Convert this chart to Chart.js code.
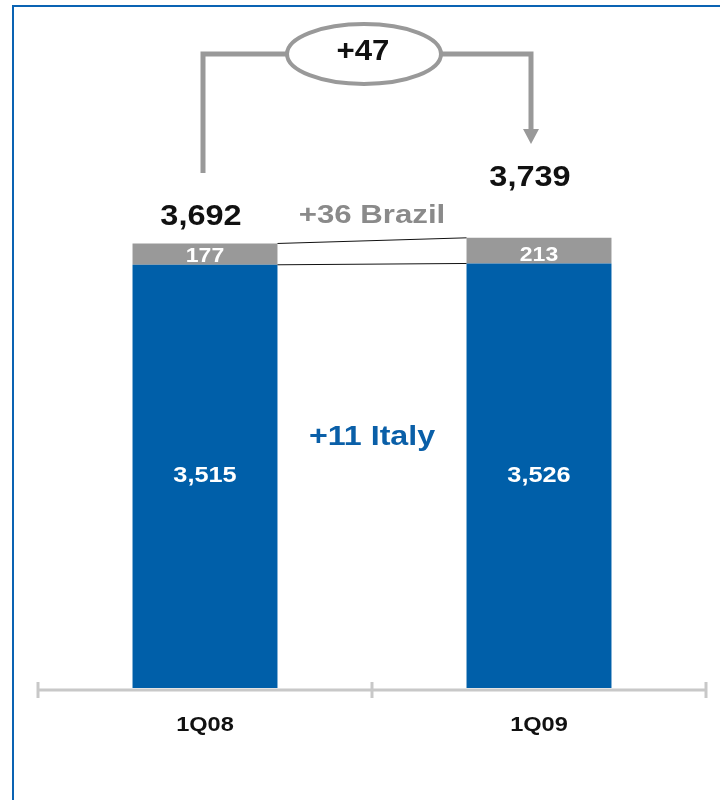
<!DOCTYPE html>
<html>
<head>
<meta charset="utf-8">
<script src="https://cdn.jsdelivr.net/npm/chart.js@4.4.1/dist/chart.umd.min.js"></script>
<style>
  html, body { margin: 0; padding: 0; background: #fff; }
  #wrap { position: relative; width: 720px; height: 800px; overflow: hidden; }
  #frame { position: absolute; left: 12px; top: 5px; width: 760px; height: 840px;
           border-left: 2px solid #0a63b3; border-top: 2px solid #0a63b3; pointer-events: none; }
  canvas { position: absolute; left: 0; top: 0; }
</style>
</head>
<body>
<div id="wrap">
  <canvas id="chart" width="720" height="800"></canvas>
  <div id="frame"></div>
</div>
<script>
// Headcount by quarter
const quarters = ['1Q08', '1Q09'];
const italy = [3515, 3526];
const brazil = [177, 213];

const totals = italy.map((v, i) => v + brazil[i]);
const fmt = v => v.toLocaleString('en-US');
const signed = v => (v >= 0 ? '+' : '') + fmt(v);

const FONT = "'Liberation Sans', Arial, Helvetica, sans-serif";
const BLUE = '#005fa9';
const GREY = '#999999';

// bold centred text, optionally widened (sx) to get the broader letterforms
function text(ctx, str, x, y, size, color, sx) {
    ctx.save();
    ctx.translate(x, y);
    ctx.scale(sx || 1, 1);
    ctx.font = 'bold ' + size + 'px ' + FONT;
    ctx.fillStyle = color;
    ctx.textAlign = 'center';
    ctx.textBaseline = 'middle';
    ctx.fillText(str, 0, 0);
    ctx.restore();
}

function line(ctx, pts) {
    ctx.beginPath();
    ctx.moveTo(pts[0][0], pts[0][1]);
    for (let i = 1; i < pts.length; i++) ctx.lineTo(pts[i][0], pts[i][1]);
    ctx.stroke();
}

// axis, value labels, bridge lines and the +/- callouts
const annotate = {
    id: 'annotate',
    afterDatasetsDraw(chart) {
        const { ctx, chartArea: a, scales: { x } } = chart;
        const blue = chart.getDatasetMeta(0).data;
        const grey = chart.getDatasetMeta(1).data;
        const mid = (x.getPixelForValue(0) + x.getPixelForValue(1)) / 2;
        ctx.save();

        // base axis with centred ticks and category names
        const ay = a.bottom + 2;
        ctx.strokeStyle = '#c8c8c8';
        ctx.lineWidth = 3;
        line(ctx, [[a.left, ay], [a.right, ay]]);
        [a.left, mid, a.right].forEach(tx => line(ctx, [[tx, ay - 8], [tx, ay + 8]]));
        x.getLabels().forEach((lab, i) => text(ctx, lab, x.getPixelForValue(i), ay + 35, 20, '#111', 1.18));

        // thin bridges between the two Brazil segments
        ctx.strokeStyle = '#111';
        ctx.lineWidth = 1;
        line(ctx, [[grey[0].x + grey[0].width / 2, grey[0].y], [grey[1].x - grey[1].width / 2, grey[1].y]]);
        line(ctx, [[blue[0].x + blue[0].width / 2, blue[0].y], [blue[1].x - blue[1].width / 2, blue[1].y]]);

        // values inside the bars
        blue.forEach((b, i) => {
            text(ctx, fmt(italy[i]), b.x, (b.y + b.base) / 2, 22, '#fff', 1.15);
            text(ctx, fmt(brazil[i]), grey[i].x, b.y - 8, 20, '#fff', 1.15);
        });

        // totals above the bars
        text(ctx, fmt(totals[0]), grey[0].x - 4, grey[0].y - 26, 29, '#111', 1.12);
        text(ctx, fmt(totals[1]), grey[1].x - 9, grey[1].y - 60, 29, '#111', 1.12);

        // change labels between the bars
        text(ctx, signed(brazil[1] - brazil[0]) + ' Brazil', mid, 216, 26, '#8a8a8a', 1.2);
        text(ctx, signed(italy[1] - italy[0]) + ' Italy', mid, 437, 28, '#0a5fa8', 1.15);

        // bracket with arrow from first total to second
        const lx = blue[0].x - 2, rx = blue[1].x - 8, top = 54;
        ctx.strokeStyle = GREY;
        ctx.fillStyle = GREY;
        ctx.lineWidth = 5;
        ctx.lineJoin = 'miter';
        line(ctx, [[lx, 173], [lx, top], [rx, top], [rx, 130]]);
        ctx.beginPath();
        ctx.moveTo(rx - 8, 129);
        ctx.lineTo(rx + 8, 129);
        ctx.lineTo(rx, 144);
        ctx.closePath();
        ctx.fill();

        const ex = (lx + rx) / 2 - 3;
        ctx.beginPath();
        ctx.ellipse(ex, top, 77, 30, 0, 0, Math.PI * 2);
        ctx.fillStyle = '#fff';
        ctx.fill();
        ctx.lineWidth = 4;
        ctx.stroke();
        text(ctx, signed(totals[1] - totals[0]), ex - 1, top - 2, 30, '#111', 1.04);

        ctx.restore();
    }
};

const ctx = document.getElementById('chart').getContext('2d');
new Chart(ctx, {
    type: 'bar',
    data: {
        labels: quarters,
        datasets: [
            { label: 'Italy', data: italy, backgroundColor: BLUE, barPercentage: 0.434, categoryPercentage: 1 },
            { label: 'Brazil', data: brazil, backgroundColor: GREY, barPercentage: 0.434, categoryPercentage: 1 }
        ]
    },
    options: {
        responsive: false,
        animation: false,
        layout: { padding: { left: 38, right: 14, top: 86, bottom: 0 } },
        plugins: { legend: { display: false }, tooltip: { enabled: false } },
        scales: {
            x: {
                stacked: true,
                grid: { display: false, drawTicks: false },
                border: { display: false },
                ticks: { display: false },
                afterFit(scale) { scale.height = 112; }
            },
            y: { stacked: true, display: false, min: 0, max: 5000 }
        }
    },
    plugins: [annotate]
});
</script>
</body>
</html>
